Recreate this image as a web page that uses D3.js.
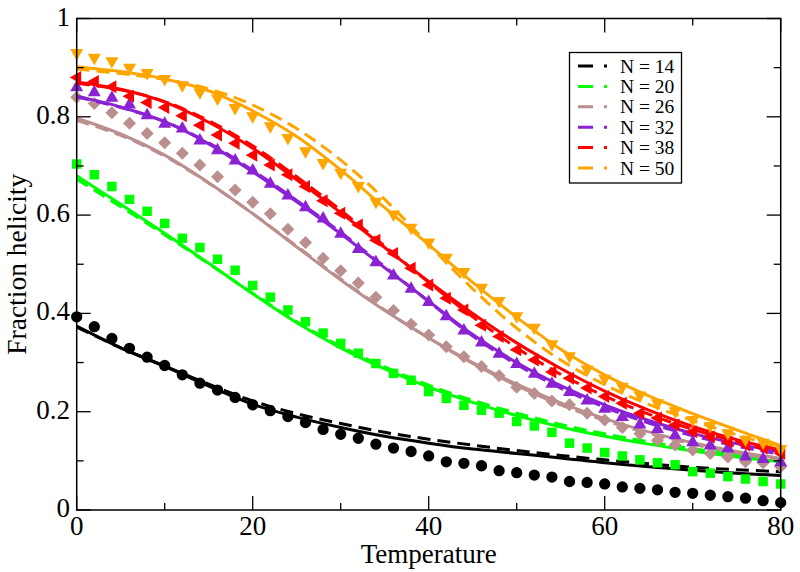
<!DOCTYPE html>
<html><head><meta charset="utf-8">
<script src="https://cdn.jsdelivr.net/npm/d3@7"></script>
<style>body{margin:0;background:#fff}svg{display:block}</style>
</head><body>
<svg id="c" width="800" height="572"></svg>
<script>
const tPts = d3.range(0, 81, 2);
const tFit = d3.range(0, 81, 5);
const labels = ["N = 14","N = 20","N = 26","N = 32","N = 38","N = 50"];
const colors = ["#000000","#00ff00","#bc8f8f","#8b22d4","#ff0000","#ffa500"];
const symbols = ["circle","square","diamond","up","left","down"];

const pts14 = [0.393,0.373,0.349,0.329,0.311,0.294,0.275,0.258,0.244,0.229,0.214,0.202,0.190,0.178,0.164,0.154,0.146,0.134,0.126,0.119,0.110,0.098,0.095,0.090,0.080,0.076,0.071,0.067,0.058,0.056,0.053,0.047,0.044,0.041,0.036,0.034,0.030,0.027,0.024,0.019,0.015];
const pts20 = [0.704,0.682,0.658,0.632,0.608,0.583,0.553,0.534,0.510,0.488,0.457,0.433,0.407,0.383,0.360,0.339,0.319,0.298,0.278,0.264,0.241,0.227,0.213,0.203,0.197,0.180,0.171,0.158,0.136,0.126,0.117,0.110,0.102,0.096,0.092,0.078,0.075,0.068,0.063,0.058,0.053];
const pts26 = [0.840,0.827,0.808,0.787,0.766,0.747,0.726,0.702,0.678,0.651,0.626,0.603,0.571,0.544,0.512,0.487,0.462,0.433,0.406,0.378,0.356,0.332,0.312,0.292,0.273,0.250,0.237,0.222,0.214,0.197,0.183,0.168,0.155,0.142,0.132,0.122,0.115,0.108,0.098,0.096,0.088];
const pts32 = [0.861,0.851,0.840,0.826,0.804,0.787,0.777,0.753,0.733,0.712,0.692,0.665,0.641,0.617,0.594,0.563,0.532,0.505,0.478,0.451,0.424,0.395,0.366,0.342,0.319,0.298,0.278,0.258,0.241,0.224,0.207,0.190,0.175,0.166,0.153,0.139,0.132,0.126,0.110,0.105,0.098];
const pts38 = [0.880,0.872,0.861,0.842,0.829,0.819,0.802,0.783,0.763,0.746,0.722,0.702,0.682,0.658,0.629,0.604,0.580,0.549,0.522,0.492,0.458,0.431,0.407,0.376,0.353,0.326,0.305,0.281,0.268,0.248,0.231,0.217,0.197,0.187,0.173,0.159,0.149,0.139,0.132,0.126,0.115];
const pts50 = [0.929,0.919,0.912,0.899,0.888,0.876,0.863,0.849,0.836,0.817,0.800,0.780,0.756,0.729,0.705,0.685,0.658,0.626,0.600,0.573,0.543,0.512,0.483,0.451,0.424,0.393,0.370,0.336,0.312,0.285,0.266,0.250,0.232,0.216,0.200,0.182,0.170,0.155,0.142,0.136,0.123];

const solid14 = [0.374,0.330,0.292,0.252,0.215,0.189,0.168,0.150,0.136,0.124,0.115,0.106,0.096,0.088,0.081,0.075,0.070];
const dash14  = [0.372,0.330,0.293,0.256,0.222,0.196,0.176,0.158,0.144,0.132,0.121,0.111,0.102,0.094,0.087,0.082,0.078];
const solid20 = [0.680,0.622,0.563,0.502,0.440,0.381,0.330,0.287,0.250,0.219,0.192,0.169,0.150,0.134,0.120,0.108,0.098];
const dash20  = [0.673,0.617,0.560,0.501,0.441,0.383,0.333,0.291,0.254,0.223,0.197,0.174,0.155,0.139,0.125,0.112,0.101];
const solid26 = [0.797,0.765,0.722,0.666,0.603,0.535,0.468,0.406,0.350,0.300,0.256,0.218,0.186,0.159,0.137,0.119,0.105];
const dash26  = [0.793,0.762,0.720,0.665,0.603,0.537,0.470,0.407,0.350,0.298,0.253,0.214,0.182,0.156,0.134,0.116,0.102];
const solid32 = [0.842,0.820,0.790,0.745,0.688,0.627,0.562,0.493,0.425,0.357,0.300,0.253,0.214,0.182,0.156,0.135,0.118];
const dash32  = [0.840,0.819,0.790,0.747,0.691,0.630,0.565,0.495,0.424,0.354,0.296,0.248,0.209,0.177,0.151,0.130,0.113];
const solid38 = [0.871,0.856,0.830,0.789,0.736,0.672,0.605,0.534,0.465,0.400,0.340,0.288,0.242,0.203,0.170,0.143,0.122];
const dash38  = [0.868,0.855,0.831,0.792,0.741,0.678,0.610,0.537,0.463,0.393,0.330,0.276,0.232,0.195,0.164,0.139,0.118];
const solid50 = [0.902,0.892,0.877,0.853,0.812,0.760,0.692,0.615,0.540,0.463,0.392,0.327,0.275,0.232,0.196,0.163,0.131];
const dash50  = [0.897,0.888,0.876,0.857,0.824,0.776,0.712,0.632,0.540,0.450,0.370,0.305,0.255,0.215,0.182,0.153,0.127];

const xTicks = [0,20,40,60,80];
const yTicks = [0,0.2,0.4,0.6,0.8,1];
const yTickLabels = ["0","0.2","0.4","0.6","0.8","1"];

const series = [
  {pts:pts14, solid:solid14, dash:dash14},
  {pts:pts20, solid:solid20, dash:dash20},
  {pts:pts26, solid:solid26, dash:dash26},
  {pts:pts32, solid:solid32, dash:dash32},
  {pts:pts38, solid:solid38, dash:dash38},
  {pts:pts50, solid:solid50, dash:dash50}
];

const svg = d3.select("#c");
const L = 76.7, R = 780.7, T = 18.5, B = 510;
const x = d3.scaleLinear().domain([0,80]).range([L,R]);
const y = d3.scaleLinear().domain([0,1]).range([B,T]);
const font = "'Liberation Serif','Times New Roman',serif";

svg.append("defs").append("clipPath").attr("id","pc")
  .append("rect").attr("x",L-8).attr("y",T).attr("width",R-L+16).attr("height",B-T+6);

const line = d3.line().x(d=>x(d[0])).y(d=>y(d[1])).curve(d3.curveCatmullRom.alpha(0.5));

function symPath(kind){
  if(kind==="circle") return d3.symbol(d3.symbolCircle, 100)();
  if(kind==="square") return d3.symbol(d3.symbolSquare, 90)();
  if(kind==="diamond") return "M0,-6.5L6.5,0L0,6.5L-6.5,0Z";
  if(kind==="up") return "M0,-7L6.5,4.5L-6.5,4.5Z";
  if(kind==="down") return "M0,7L6.5,-4.5L-6.5,-4.5Z";
  if(kind==="left") return "M-7,0L4.5,-6.5L4.5,6.5Z";
}

const g = svg.append("g").attr("clip-path","url(#pc)");
series.forEach((s,i)=>{
  const c = colors[i];
  g.append("g").selectAll("path").data(tPts.map((t,j)=>[t,s.pts[j]])).join("path")
    .attr("d", symPath(symbols[i]))
    .attr("transform", d=>`translate(${x(d[0])},${y(d[1])})`)
    .attr("fill", c);
  g.append("path").datum(tFit.map((t,j)=>[t,s.solid[j]])).attr("d",line)
    .attr("fill","none").attr("stroke",c).attr("stroke-width",3);
  g.append("path").datum(tFit.map((t,j)=>[t,s.dash[j]])).attr("d",line)
    .attr("fill","none").attr("stroke",c).attr("stroke-width",3)
    .attr("stroke-dasharray","13,7");
});

svg.append("rect").attr("x",L).attr("y",T).attr("width",R-L).attr("height",B-T)
  .attr("fill","none").attr("stroke","#000").attr("stroke-width",1.5);

const ax = svg.append("g").attr("stroke","#000").attr("stroke-width",1.3);
d3.range(0,81,10).forEach(v=>{
  const len = v%20===0 ? 14 : 7;
  ax.append("line").attr("x1",x(v)).attr("x2",x(v)).attr("y1",B).attr("y2",B-len);
  ax.append("line").attr("x1",x(v)).attr("x2",x(v)).attr("y1",T).attr("y2",T+len);
});
d3.range(0,11,1).forEach(k=>{
  const v = k/10;
  const len = k%2===0 ? 14 : 7;
  ax.append("line").attr("y1",y(v)).attr("y2",y(v)).attr("x1",L).attr("x2",L+len);
  ax.append("line").attr("y1",y(v)).attr("y2",y(v)).attr("x1",R).attr("x2",R-len);
});

svg.append("g").selectAll("text").data(xTicks).join("text")
  .attr("x",d=>x(d)).attr("y",535).attr("text-anchor","middle")
  .attr("font-family",font).attr("font-size",27).text(d=>d);
svg.append("g").selectAll("text").data(yTicks).join("text")
  .attr("x",70).attr("y",d=>y(d)+7).attr("text-anchor","end")
  .attr("font-family",font).attr("font-size",27).text((d,i)=>yTickLabels[i]);

svg.append("text").attr("x",(L+R)/2).attr("y",563).attr("text-anchor","middle")
  .attr("font-family",font).attr("font-size",27).text("Temperature");
svg.append("text").attr("transform",`translate(26,${(T+B)/2}) rotate(-90)`)
  .attr("text-anchor","middle").attr("font-family",font).attr("font-size",27.5)
  .text("Fraction helicity");

const lg = svg.append("g");
lg.append("rect").attr("x",569.5).attr("y",52.5).attr("width",112).attr("height",130.5)
  .attr("fill","#fff").attr("stroke","#000").attr("stroke-width",1.3);
labels.forEach((lab,i)=>{
  const yy = 66 + i*20.4;
  lg.append("line").attr("x1",578).attr("x2",607).attr("y1",yy).attr("y2",yy)
    .attr("stroke",colors[i]).attr("stroke-width",3).attr("stroke-dasharray","15,11");
  lg.append("text").attr("x",620).attr("y",yy+6.5).attr("font-family",font)
    .attr("font-size",19.5).text(lab);
});
</script>
</body></html>
